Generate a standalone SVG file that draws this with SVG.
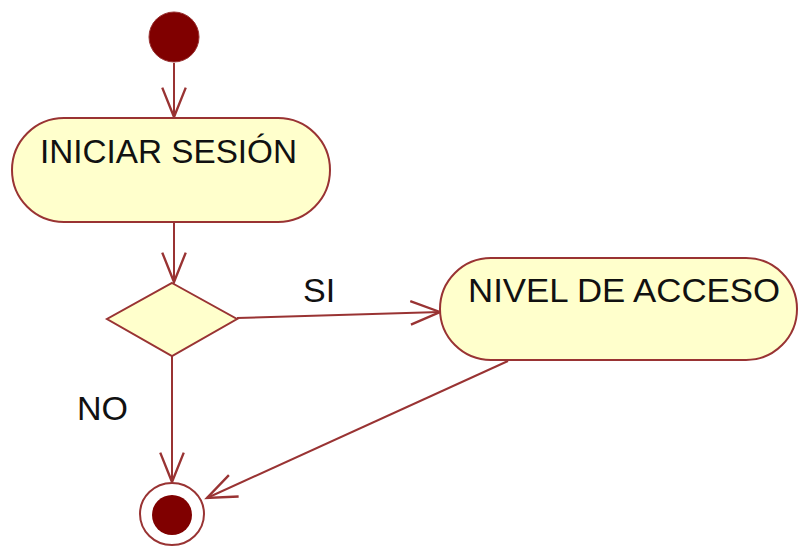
<svg xmlns="http://www.w3.org/2000/svg" width="799" height="547" viewBox="0 0 799 547">
<style>
.node{fill:#ffffcc;stroke:#993333;stroke-width:2}
.lbl{font-family:"Liberation Sans",Arial,sans-serif;font-size:34px;fill:#111}
.conn{fill:none;stroke:#993333;stroke-width:2}
</style>
<defs>
<marker id="arr" markerUnits="userSpaceOnUse" markerWidth="40" markerHeight="40" viewBox="-30 -15 34 30" refX="0" refY="0" orient="auto" overflow="visible">
<path d="M-25,-10 L0,0 L-25,10" fill="none" stroke="#993333" stroke-width="2"/>
</marker>
</defs>
<rect width="799" height="547" fill="#ffffff"/>
<g id="connectors">
<line class="conn" x1="174" y1="63" x2="174" y2="117" marker-end="url(#arr)"/>
<line class="conn" x1="174" y1="222" x2="174" y2="282" marker-end="url(#arr)"/>
<line class="conn" x1="237" y1="318" x2="440" y2="312" marker-end="url(#arr)"/>
<line class="conn" x1="172" y1="356" x2="172" y2="482" marker-end="url(#arr)"/>
<line class="conn" x1="508" y1="361" x2="207" y2="498" marker-end="url(#arr)"/>
<text class="lbl" x="303" y="302">SI</text>
<text class="lbl" x="77" y="420">NO</text>
</g>
<g id="start">
<circle cx="174" cy="37" r="25" fill="#800000" stroke="#993333" stroke-width="1"/>
</g>
<g id="iniciar">
<rect class="node" x="12" y="118" width="318" height="104" rx="52" ry="52"/>
<text class="lbl" x="40" y="163" textLength="257" lengthAdjust="spacingAndGlyphs">INICIAR SESIÓN</text>
</g>
<g id="decision">
<polygon class="node" points="172,283 237,319 172,356 107,319"/>
</g>
<g id="nivel">
<rect class="node" x="440" y="258" width="357" height="102" rx="51" ry="51"/>
<text class="lbl" x="468" y="302" textLength="312" lengthAdjust="spacingAndGlyphs">NIVEL DE ACCESO</text>
</g>
<g id="end">
<ellipse cx="172" cy="514" rx="32" ry="31" fill="#ffffff" stroke="#993333" stroke-width="2"/>
<circle cx="172" cy="515" r="20" fill="#800000"/>
</g>
</svg>
